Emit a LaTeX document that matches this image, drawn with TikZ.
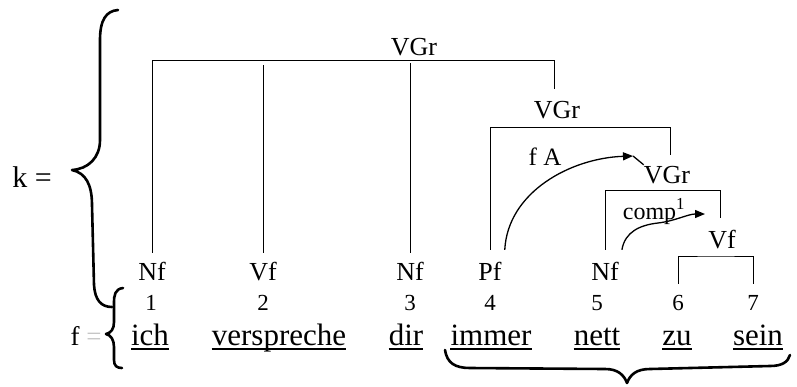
\documentclass[tikz,border=0pt]{standalone}
\usepackage{fontspec}
\setmainfont{Liberation Serif}
\usetikzlibrary{arrows.meta,calc}
\begin{document}
\begin{tikzpicture}[x=1pt,y=-1pt,
  lab/.style={font=\fontsize{26}{26}\selectfont, inner sep=0pt, anchor=base, text height=18pt, text depth=0pt},
  num/.style={font=\fontsize{23}{23}\selectfont, inner sep=0pt, anchor=base, text height=16pt, text depth=0pt},
  word/.style={font=\fontsize{31}{31}\selectfont, inner sep=0pt, anchor=base, text depth=0pt},
  side/.style={font=\fontsize{30}{30}\selectfont, inner sep=0pt, anchor=base},
  ln/.style={line width=1pt},
  ul/.style={line width=1.3pt},
  brc/.style={line width=2.6pt, line cap=round, line join=round},
  arc/.style={line width=1.3pt, -{Triangle[length=10pt,width=8pt]}},
]
\useasboundingbox (0,0) rectangle (797,386);

% side labels
\node[side] (k) at (32,187) {k =};
\node[side, font=\fontsize{27}{27}\selectfont] (f) at (86,345) {f {\color{gray!45}=}};

% category labels
\node[lab] (n1) at (152,280) {Nf};
\node[lab] (v2) at (263,280) {Vf};
\node[lab] (n3) at (410,280) {Nf};
\node[lab] (p4) at (490,280) {Pf};
\node[lab] (n5) at (605,280) {Nf};
\node[lab] (vgrA) at (414,55) {VGr};
\node[lab] (vgrB) at (557,118) {VGr};
\node[lab] (vgrC) at (667,183) {VGr};
\node[lab] (vfG) at (722,248) {Vf};
\node[lab, font=\fontsize{25}{25}\selectfont] (fA) at (545,165) {f A};
\node[lab, font=\fontsize{24}{24}\selectfont] (comp) at (654,219) {comp\textsuperscript{1}};

% numbers
\node[num] (d1) at (151,310) {1};
\node[num] (d2) at (263,310) {2};
\node[num] (d3) at (410,310) {3};
\node[num] (d4) at (490,310) {4};
\node[num] (d5) at (597,310) {5};
\node[num] (d6) at (678,310) {6};
\node[num] (d7) at (753,310) {7};

% words
\node[word] (w1) at (150,345) {ich};
\node[word] (w2) at (279,345) {verspreche};
\node[word] (w3) at (406,345) {dir};
\node[word] (w4) at (491,345) {immer};
\node[word] (w5) at (597,345) {nett};
\node[word] (w6) at (677,345) {zu};
\node[word] (w7) at (758,345) {sein};
\foreach \w in {w1,w2,w3,w4,w5,w6,w7}
  \draw[ul] ([yshift=-4pt]\w.base west) -- ([yshift=-4pt]\w.base east);

% tree brackets
\coordinate (tbR) at (554,60);
\coordinate (tbE) at (554,89);
\coordinate (topv) at (0,65);
\coordinate (topn) at (0,63);
\draw[ln] ([yshift=9pt]n1.north) |- (tbR) -- (tbE);
\draw[ln] ([yshift=9pt]v2.north) -- (v2.north |- topv);
\draw[ln] ([yshift=9pt]n3.north) -- (n3.north |- topn);

\coordinate (mbR) at (670,127);
\coordinate (mbE) at (670,155);
\draw[ln] ([yshift=12pt]p4.north) |- (mbR) -- (mbE);

\coordinate (ibR) at (720,190);
\coordinate (ibE) at (720,218);
\draw[ln] ([yshift=12pt]n5.north) |- (ibR) -- (ibE);

\coordinate (vbR) at (716,256);
\draw[ln] ([yshift=10pt]d6.north) |- (vbR) -| ([yshift=10pt]d7.north);

% arcs
\coordinate (faT) at (633,156);
\draw[arc] ([shift={(3pt,12pt)}]p4.north east) .. controls +(3,-58) and +(-62,2) .. (faT);
\draw[line width=1.3pt] (faT) -- (vgrC.north west);

\coordinate (cpT) at (705,214);
\draw[arc] ([shift={(3pt,12pt)}]n5.north east) .. controls +(3,-18) and (640,225) .. (658,223) .. controls (675,221) and (688,214) .. (cpT);

% braces
\draw[brc] (118,10) .. controls (106,11) and (100,20) .. (100,40) -- (100,140)
  .. controls (100,158) and (88,169) .. (72,170)
  .. controls (86,173) and (92,185) .. (92,205) -- (94,285)
  .. controls (95,300) and (101,307) .. (112,307);
\draw[brc] (123,288) .. controls (115,289) and (114,295) .. (114,303) -- (114,322)
  .. controls (114,329) and (111,333) .. (106,334)
  .. controls (111,335) and (114,340) .. (114,347) -- (114,360)
  .. controls (114,366) and (117,368) .. (122,368);
\draw[brc] (445,350) .. controls (447,363) and (455,368) .. (470,368) -- (605,369)
  .. controls (618,369) and (624,375) .. (627,383)
  .. controls (630,375) and (636,369) .. (650,369) -- (770,366)
  .. controls (782,366) and (788,362) .. (790,355);
\end{tikzpicture}
\end{document}
